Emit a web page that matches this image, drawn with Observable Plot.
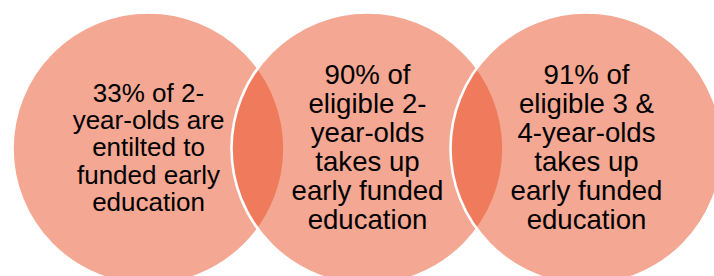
<!DOCTYPE html>
<html>
<head>
<meta charset="utf-8">
<script src="https://cdn.jsdelivr.net/npm/d3@7"></script>
<script src="https://cdn.jsdelivr.net/npm/@observablehq/plot@0.6"></script>
<style>
  html, body { margin: 0; padding: 0; background: #fff; }
  #chart svg { display: block; }
</style>
</head>
<body>
<div id="chart"></div>
<script>
const categories = ["entitlement", "uptake2", "uptake34"];
const labels = [
  "33% of 2-\nyear-olds are\nentilted to\nfunded early\neducation",
  "90% of\neligible 2-\nyear-olds\ntakes up\nearly funded\neducation",
  "91% of\neligible 3 &\n4-year-olds\ntakes up\nearly funded\neducation"
];

const data = categories.map((c, i) => ({category: c, label: labels[i]}));

const chart = Plot.plot({
  width: 714,
  height: 276,
  marginTop: 20,
  marginBottom: 0,
  marginLeft: 0,
  marginRight: 0,
  x: {type: "point", domain: categories, range: [147, 586], padding: 0, axis: null},
  style: {background: "#fff", fontFamily: "'Liberation Sans', Arial, sans-serif"},
  marks: [
    Plot.dot(data, {
      x: "category",
      r: 136,
      fill: "#E94F25",
      fillOpacity: 0.5,
      stroke: "white",
      strokeWidth: 2.6
    }),
    Plot.text(data, {
      x: "category",
      text: "label",
      fontSize: (d, i) => i === 0 ? 26 : 27.6,
      lineHeight: 1.05,
      fill: "black",
      textAnchor: "middle",
      lineAnchor: "middle",
      dy: -1
    })
  ]
});
document.getElementById("chart").appendChild(chart);
</script>
</body>
</html>
